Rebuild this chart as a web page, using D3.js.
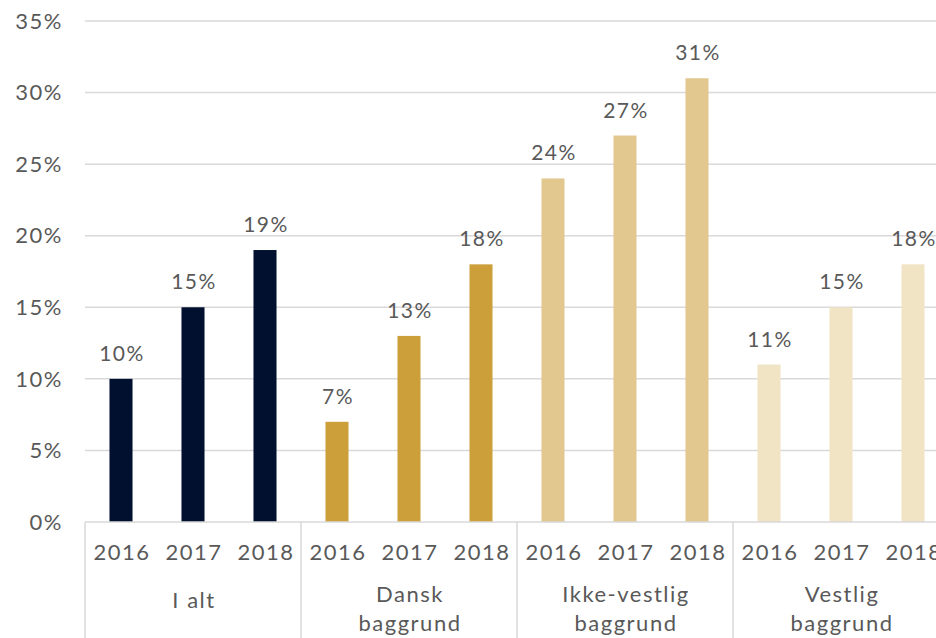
<!DOCTYPE html>
<head>
  <meta charset="utf-8" />
  <script src="https://d3js.org/d3.v7.min.js"></script>
  <style>
    body { margin: 0; background: #fff; overflow: hidden; }
    text { font-family: Lato, "Open Sans", sans-serif; fill: #595959; letter-spacing: 1.5px; }
  </style>
</head>
<body>
<div id="chart"></div>
<script>
// data
var groups = ["I alt", "Dansk baggrund", "Ikke-vestlig baggrund", "Vestlig baggrund"];
var groupLines = [["I alt"], ["Dansk", "baggrund"], ["Ikke-vestlig", "baggrund"], ["Vestlig", "baggrund"]];
var years = ["2016", "2017", "2018"];
var values = [
  [10, 15, 19],
  [7, 13, 18],
  [24, 27, 31],
  [11, 15, 18]
];
var colors = ["#01102f", "#cc9f3b", "#e2c78e", "#f0e4c5"];
var yTicks = [0, 5, 10, 15, 20, 25, 30, 35];

var W = 936, H = 638;
var left = 85, groupW = 216, baseY = 522, topY = 21;

var svg = d3.select("#chart").append("svg")
  .attr("width", W).attr("height", H);

var x0 = d3.scaleBand().domain(groups)
  .range([left, left + groupW * groups.length]).padding(0);
var x1 = d3.scaleBand().domain(years)
  .range([0, groupW]).paddingInner(0.68).paddingOuter(0.34);
var y = d3.scaleLinear().domain([0, 35]).range([baseY, topY]);

// gridlines
svg.append("g").selectAll("line")
  .data(yTicks.filter(function(d){ return d > 0; }))
  .join("line")
    .attr("x1", left).attr("x2", W)
    .attr("y1", function(d){ return y(d); })
    .attr("y2", function(d){ return y(d); })
    .attr("stroke", "#d9d9d9").attr("stroke-width", 1.5);

// y labels
svg.append("g").selectAll("text")
  .data(yTicks)
  .join("text")
    .attr("x", 63)
    .attr("y", function(d){ return y(d); })
    .attr("dy", "0.35em")
    .attr("text-anchor", "end")
    .style("font-size", "22px")
    .text(function(d){ return d + "%"; });

// bars
var g = svg.append("g").selectAll("g")
  .data(groups)
  .join("g")
    .attr("transform", function(d){ return "translate(" + x0(d) + ",0)"; });

g.selectAll("rect")
  .data(function(d, i){ return values[i].map(function(v, j){ return {year: years[j], v: v, gi: i}; }); })
  .join("rect")
    .attr("x", function(d){ return x1(d.year); })
    .attr("y", function(d){ return y(d.v); })
    .attr("width", x1.bandwidth())
    .attr("height", function(d){ return baseY - y(d.v); })
    .attr("fill", function(d){ return colors[d.gi]; });

g.selectAll("text.val")
  .data(function(d, i){ return values[i].map(function(v, j){ return {year: years[j], v: v}; }); })
  .join("text")
    .attr("class", "val")
    .attr("x", function(d){ return x1(d.year) + x1.bandwidth() / 2 + 1; })
    .attr("y", function(d){ return y(d.v) - 18; })
    .attr("text-anchor", "middle")
    .style("font-size", "21px")
    .text(function(d){ return d.v + "%"; });

// year labels
g.selectAll("text.yr")
  .data(years)
  .join("text")
    .attr("class", "yr")
    .attr("x", function(d){ return x1(d) + x1.bandwidth() / 2 + 1; })
    .attr("y", 552)
    .attr("dy", "0.35em")
    .attr("text-anchor", "middle")
    .style("font-size", "22px")
    .text(function(d){ return d; });

// group labels
g.each(function(d, i) {
  var lines = groupLines[i];
  var y0 = lines.length === 1 ? 600 : 594;
  d3.select(this).selectAll("text.grp")
    .data(lines)
    .join("text")
      .attr("class", "grp")
      .attr("x", groupW / 2 + 1)
      .attr("y", function(t, k){ return y0 + k * 29; })
      .attr("dy", "0.35em")
      .attr("text-anchor", "middle")
      .style("font-size", "22px")
      .text(function(t){ return t; });
});

// axis line and separators
svg.append("line")
  .attr("x1", left).attr("x2", W)
  .attr("y1", baseY).attr("y2", baseY)
  .attr("stroke", "#d9d9d9").attr("stroke-width", 1.5);

svg.append("g").selectAll("line")
  .data(groups)
  .join("line")
    .attr("x1", function(d){ return x0(d); })
    .attr("x2", function(d){ return x0(d); })
    .attr("y1", baseY).attr("y2", H)
    .attr("stroke", "#d9d9d9").attr("stroke-width", 1.5);
</script>
</body>
</html>
